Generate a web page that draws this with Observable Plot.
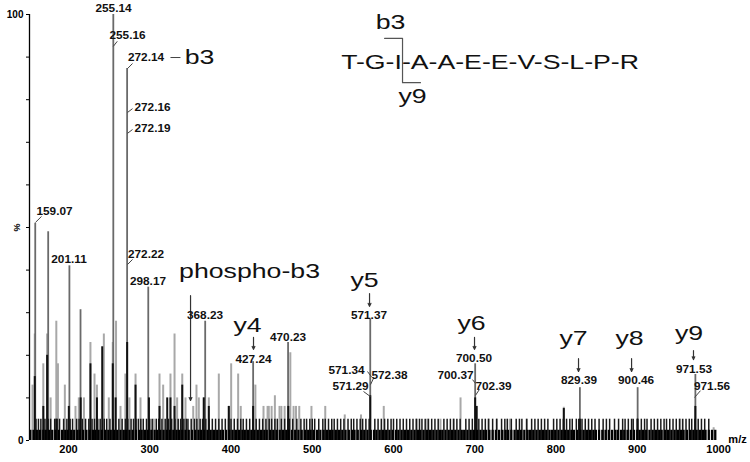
<!DOCTYPE html>
<html><head><meta charset="utf-8">
<script src="https://cdn.jsdelivr.net/npm/d3@7"></script>
<script src="https://cdn.jsdelivr.net/npm/@observablehq/plot@0.6"></script>
<style>body{margin:0;background:#fff} #chart{width:750px;height:462px}</style>
</head><body><div id="chart"></div>
<script>
// ---- data: labelled (main) peaks, m/z and relative intensity (%) ----
const mainMz = [159.07, 175.0, 201.11, 214.8, 255.14, 272.14, 298.17, 368.23, 427.24, 470.23, 571.37, 700.50, 829.39, 900.46, 971.53];
const mainI  = [51, 49, 41, 30.7, 100, 87.3, 36, 28, 18.5, 23, 28.5, 18, 12.4, 12.4, 15.5];

// ---- secondary peaks (grey traces) ----
const grayMz = [155.7,158.5,169,173.7,178,185,187,195.5,208.6,212.7,219,227,232,235,243.5,249.6,254.5,258.5,264,270,275,282.5,288.6,305,312,316.5,325.5,330.5,333.7,340,344,353.5,357.5,360.4,366.5,372.7,385,397.3,400.2,408.8,412,430,440,445,446.5,450,454,459.7,462,466,473,477,480,484,499,516,540,560,588,629,641.5,657.8,674,682.5,717,727,743,763.7,809.6,953,994];
const grayI  = [13,25,18,25,10,28,18,13,8,10,10,23,15.6,13,25,10,23,28,8,15.6,10,15.6,10,5,15.6,13,15.6,25,10,15.6,10,8,13,10,10,10,15.6,8,18,15.6,8,13,8,8,8,8,10.5,8,8,8,20.6,8,8,8,8,8,6,6,8,5,5,5,5,10,5,5,5,5,7.8,5,3];

// ---- secondary peaks (dark traces) ----
const darkMz = [158.5,169,173.7,185,200.4,215,227,235,241.5,254.5,258,272.2,282.5,299,312,321.5,325.5,330.5,340,366.5,372.7,397.3,427.24,470.5,571.4,700.5,702.4,809.6,829.4,900.5,971.5];
const darkI  = [15,8,20,5,8,10,18,10,22,18,10,23,13,10,8,10,10,8,13,10,8,8,8,8,10.5,10,8,7.5,5,5,8];

// ---- low-level noise (5 %) ----
const midMz = [160,163,166,171,175,178,183,186,189,194,198,202,205,210,213,217,221,225,229,232,236,239,244,247,251,255,262,266,270,273,277,280,283,286,289,292,296,300,303,308,311,315,319,323,327,331,335,338,342,345,347,351,355,358,362,365,369,373,377,381,385,389,393,397,400,404,408,412,415,419,423,427,431,435,439,443,447,450,454,457,462,466,470,472,476,481,486,490,493,497,500,503,508,513,516,520,524,527,531,535,539,544,548,551,555,559,562,566,570,577,581,585,589,593,597,600,604,608,612,616,620,624,628,632,635,639,643,647,651,655,662,666,670,674,678,682,689,693,697,701,705,709,713,717,722,727,733,737,740,745,751,755,758,764,770,774,778,782,786,790,797,801,805,809,813,817,820,825,828,832,836,840,844,848,853,858,862,866,872,877,882,885,889,893,895,900,905,909,912,917,921,925,929,933,936,940,944,948,952,956,960,964,967,971,975,979,983,988];
const midLevel = 5;

// ---- baseline noise band (~2.4 %) ----
const baseMz = [153,157,161,165,169,172,176,180,184,188,192,196,199,203,207,211,214,218,222,226,230,233,237,241,245,249,252,256,260,264,268,271,275,279,283,287,290,294,298,302,306,309,313,317,321,325,329,333,336,340,344,348,352,356,360,363,367,371,375,379,383,387,390,394,398,402,406,410,414,417,421,425,429,433,437,441,444,448,452,456,460,464,468,471,475,479,483,487,491,495,498,502,506,510,514,518,522,525,529,533,537,541,545,549,552,556,560,564,568,572,576,579,583,587,591,595,599,603,606,610,614,618,622,626,630,633,637,641,645,649,653,657,660,664,668,672,676,680,684,687,691,695,699,703,707,711,714,718,722,726,730,734,738,741,745,749,753,757,761,765,768,772,776,780,784,788,792,795,799,803,807,811,815,819,822,826,830,834,838,842,846,849,853,857,861,865,869,873,876,880,884,888,892,896,900,903,907,911,915,919,923,927,930,934,938,942,946,950,954,957,961,965,969,973,977,981,984,988,992,996];
const baseLevel = 2.4;

// ---- axes ----
const xTicks = [200,300,400,500,600,700,800,900,1000];
const yTicks = [0,10,20,30,40,50,60,70,80,90,100];

// ---- peak labels (m/z text) ----
const peakLabels = [
  {t:"255.14", x:255.4, y:101.4},
  {t:"255.16", x:272.6, y:95.1},
  {t:"272.14", x:295.4, y:89.9},
  {t:"272.16", x:303.4, y:78.2},
  {t:"272.19", x:303.4, y:73.2},
  {t:"272.22", x:295.4, y:43.7},
  {t:"159.07", x:182.8, y:53.8},
  {t:"201.11", x:200.6, y:42.5},
  {t:"298.17", x:297.8, y:37.3},
  {t:"368.23", x:368.0, y:29.3},
  {t:"427.24", x:427.7, y:19.0},
  {t:"470.23", x:470.2, y:24.2},
  {t:"571.37", x:569.8, y:29.3},
  {t:"571.34", x:542.2, y:16.4},
  {t:"572.38", x:595.1, y:15.3},
  {t:"571.29", x:547.1, y:12.7},
  {t:"700.50", x:699.1, y:19.2},
  {t:"700.37", x:676.3, y:15.3},
  {t:"702.39", x:723.1, y:12.7},
  {t:"829.39", x:828.3, y:14.1},
  {t:"900.46", x:898.5, y:14.1},
  {t:"971.53", x:969.8, y:16.7},
  {t:"971.56", x:992.0, y:12.7}
];
// ---- ion annotations ----
const ionLabels = [
  {t:"b3", x:361.2, y:89.9},
  {t:"phospho-b3", x:422.8, y:39.7},
  {t:"y4", x:420.3, y:27.0},
  {t:"y5", x:564.3, y:37.6},
  {t:"y6", x:696.0, y:27.5},
  {t:"y7", x:821.5, y:23.9},
  {t:"y8", x:890.5, y:23.9},
  {t:"y9", x:963.7, y:25.1},
  {t:"T-G-I-A-A-E-E-V-S-L-P-R", x:718.8, y:88.7},
  {t:"b3", x:596.3, y:98.1},
  {t:"y9", x:623.4, y:80.8}
];
const arrows = [
  {x:427.7, y1:24.2, y2:21.4},
  {x:570.5, y1:34.5, y2:31.5},
  {x:699.7, y1:24.2, y2:21.4},
  {x:827.7, y1:19.2, y2:16.2},
  {x:893.0, y1:19.2, y2:16.2},
  {x:969.2, y1:21.1, y2:19.0},
  {x:350.2, y1:34.0, y2:9.4}
];
const leaders = [
  {x1:255.1, y1:92.5, x2:260.0, y2:93.7},
  {x1:272.6, y1:87.3, x2:278.8, y2:88.5},
  {x1:272.6, y1:77.0, x2:278.8, y2:77.9},
  {x1:272.6, y1:72.1, x2:278.8, y2:73.0},
  {x1:272.6, y1:41.3, x2:278.8, y2:42.5},
  {x1:159.4, y1:51.2, x2:166.8, y2:52.6},
  {x1:568.0, y1:16.2, x2:573.0, y2:14.9},
  {x1:571.7, y1:13.1, x2:575.4, y2:14.6},
  {x1:563.1, y1:11.5, x2:571.7, y2:10.3},
  {x1:697.2, y1:14.3, x2:700.9, y2:13.4},
  {x1:700.9, y1:10.6, x2:705.8, y2:12.0},
  {x1:970.5, y1:10.1, x2:977.8, y2:11.7},
  {x1:325.5, y1:89.9, x2:337.8, y2:89.9}
];
const bracket = [{x:589, y:94.4},{x:611.1, y:94.4},{x:611.1, y:84.0},{x:633.2, y:84.0}];

const toRows = (m, v) => m.map((d, i) => ({mz: d, i: v[i]}));
const mainRows = toRows(mainMz, mainI);
const grayRows = toRows(grayMz, grayI);
const darkRows = toRows(darkMz, darkI);
const midRows = midMz.map(d => ({mz: d, i: midLevel}));
const baseRows = baseMz.map(d => ({mz: d, i: baseLevel}));

const FONT = "Liberation Sans, Arial, Helvetica, sans-serif";

const chart = Plot.plot({
  width: 750, height: 462,
  marginLeft: 29, marginRight: 28, marginTop: 14, marginBottom: 22,
  x: {domain: [152, 1004.9]},
  y: {domain: [0, 100]},
  style: {fontFamily: FONT, background: "#fff", overflow: "visible"},
  marks: [
    Plot.ruleX(grayRows, {x: "mz", y1: 0, y2: "i", stroke: "#a8a8a8", strokeWidth: 2}),
    Plot.ruleX(mainRows, {x: "mz", y1: 0, y2: "i", stroke: "#6a6a6a", strokeWidth: 1.8}),
    Plot.ruleX(midRows, {x: "mz", y1: 0, y2: "i", stroke: "#1a1a1a", strokeWidth: 1.5}),
    Plot.ruleX(darkRows, {x: "mz", y1: 0, y2: "i", stroke: "#111", strokeWidth: 2}),
    Plot.ruleX(baseRows, {x: "mz", y1: 0, y2: "i", stroke: "#000", strokeWidth: 2.3}),
    Plot.ruleX([152], {y1: 0, y2: 100, stroke: "#000", strokeWidth: 1.3}),
    Plot.axisY({ticks: yTicks, tickSize: 3, tickPadding: 3, label: null, fontSize: 10, fontWeight: "bold",
      tickFormat: d => (d === 0 || d === 100) ? String(d) : ""}),
    Plot.axisX({ticks: xTicks, tickSize: 0, tickPadding: 5, label: null, fontSize: 11, fontWeight: "bold",
      tickFormat: d => String(d)}),
    Plot.text(["%"], {x: 137.2, y: 50, text: d => d, rotate: -90, fontSize: 9, fontWeight: "bold"}),
    Plot.text(["m/z"], {x: 1023.4, y: 0.3, text: d => d, fontSize: 11, fontWeight: "bold"}),
    Plot.link(leaders, {x1: "x1", y1: "y1", x2: "x2", y2: "y2", stroke: "#444", strokeWidth: 1}),
    Plot.arrow(arrows, {x1: "x", y1: "y1", x2: "x", y2: "y2", stroke: "#333", strokeWidth: 1.2, headLength: 4, headAngle: 50}),
    Plot.line(bracket, {x: "x", y: "y", stroke: "#555", strokeWidth: 1.2}),
    Plot.text(peakLabels, {x: "x", y: "y", text: "t", fontSize: 10, fontWeight: "bold", fill: "#111"}),
    Plot.text(ionLabels, {x: "x", y: "y", text: "t", fontSize: 21, fill: "#111"})
  ]
});
document.getElementById("chart").append(chart);

// widen the annotation texts to the reference's proportions
const peakSet = new Set(peakLabels.map(d => d.t));
const ionSet = new Set(ionLabels.map(d => d.t));
chart.querySelectorAll("text").forEach(t => {
  const s = t.textContent;
  let f = 0;
  if (peakSet.has(s)) f = 1.18;
  else if (ionSet.has(s)) f = 1.27;
  if (!f) return;
  const w = t.getComputedTextLength();
  if (w > 0) {
    t.setAttribute("textLength", (w * f).toFixed(1));
    t.setAttribute("lengthAdjust", "spacingAndGlyphs");
  }
});
</script>
</body></html>
